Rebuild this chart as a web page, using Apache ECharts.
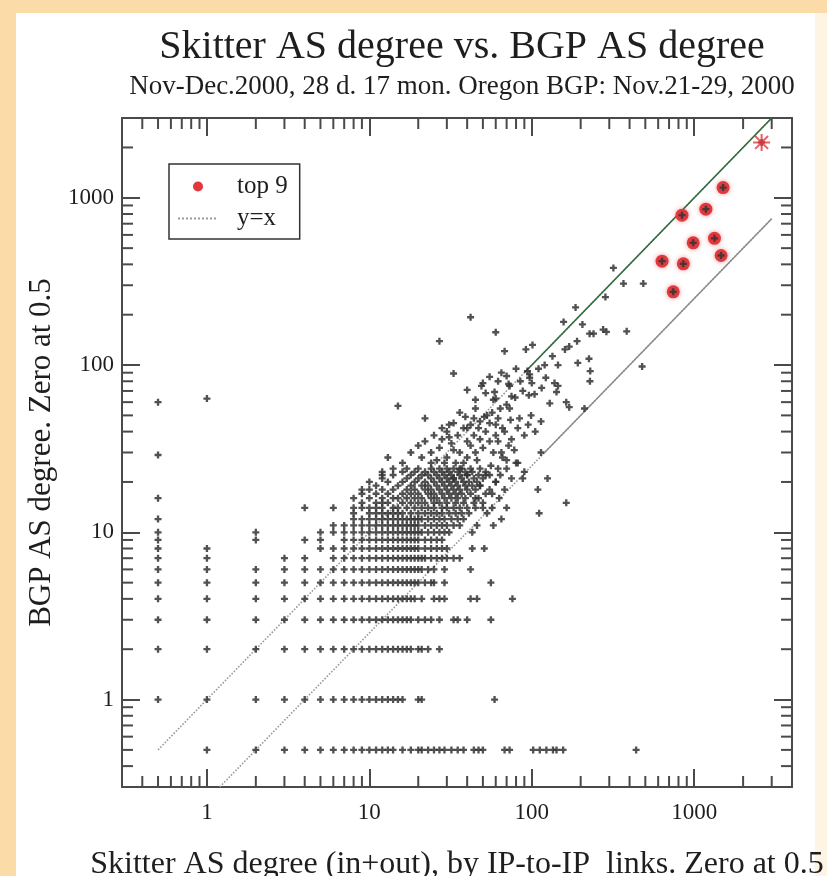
<!DOCTYPE html>
<html><head><meta charset="utf-8">
<script src="https://cdn.jsdelivr.net/npm/echarts@6/dist/echarts.min.js"></script>
<style>html,body{margin:0;padding:0;background:#fff}#c{width:827px;height:876px}</style>
</head><body><div id="c"></div>
<script>
const titleText = 'Skitter AS degree vs. BGP AS degree';
const subtitleText = 'Nov-Dec.2000, 28 d. 17 mon. Oregon BGP: Nov.21-29, 2000';
const xAxisLabel = 'Skitter AS degree (in+out), by IP-to-IP  links. Zero at 0.5';
const yAxisLabel = 'BGP AS degree. Zero at 0.5';
const xRange = [0.3, 4000];
const yRange = [0.3, 3000];
const majorTicks = [1, 10, 100, 1000];
const xMinorTicks = [0.4,0.5,0.6,0.7,0.8,0.9,2,3,4,5,6,7,8,9,20,30,40,50,60,70,80,90,200,300,400,500,600,700,800,900,2000,3000];
const yMinorTicks = [0.4,0.5,0.6,0.7,0.8,0.9,2,3,4,5,6,7,8,9,20,30,40,50,60,70,80,90,200,300,400,500,600,700,800,900,2000];

// grid-like low degree rows: BGP degree (y) and the Skitter degrees (x) found on that row
const gridYs = [0.5,1,2,3,4,5,6,7,8,9,10,11,12,13,14,15,16,17,18,19,20,21,22,23,24];
const gridXs = [
  [1,2,3,4,5,6,7,8,9,10,11,12,13,14,16,18,20,21,23,25,27,29,32,35,38,44,47,50,68,73,102,112,123,135,142,156,439],
  [0.5,1,2,3,4,5,6,7,8,9,10,11,12,13,14,15,16,20,21,59],
  [0.5,1,2,3,4,5,6,7,8,9,10,11,12,13,14,15,16,17,18,20,21,23,27],
  [0.5,1,2,3,4,5,6,7,8,9,10,11,12,13,14,15,16,17,18,20,22,24,27,33,35,40,56],
  [0.5,1,2,3,4,5,6,7,8,9,10,11,12,13,14,15,16,17,18,19,21,25,27,29,42,46,76],
  [0.5,1,2,3,4,5,6,7,8,9,10,11,12,13,14,15,16,17,18,19,20,22,24,25,29,56],
  [0.5,1,2,3,4,5,6,7,8,9,10,11,12,13,14,15,16,17,18,19,20,21,23,25,29,42],
  [0.5,1,3,4,6,7,8,9,10,11,12,13,14,15,16,17,18,19,20,21,22,24,26,28,30,33,36],
  [0.5,1,5,6,7,8,9,10,11,12,13,14,15,16,17,18,19,20,22,24,26,28,30,43,51],
  [0.5,2,4,5,7,8,9,10,11,12,13,14,15,16,17,18,19,20,22,24,26,28],
  [0.5,2,5,6,7,8,9,10,11,12,13,14,15,16,17,18,19,20,21,23,25,27,29,31,43],
  [6,7,8,9,10,11,12,13,14,15,16,17,18,19,20,22,24,26,28,30,33,36],
  [0.5,8,9,10,11,12,13,14,15,16,17,18,19,20,21,23,25,27,29,32,35,38],
  [8,10,11,12,13,14,15,16,18,20,22,24,26,28,31,34,37,41,111],
  [4,6,8,9,10,11,12,14,15,17,19,21,23,25,28,30,33,36,40,45,57,70],
  [9,11,12,13,16,18,20,22,25,27,30,34,38,44,50,163],
  [0.5,8,10,12,14,15,17,19,21,24,26,29,32,35,39,47],
  [9,11,13,16,18,20,23,25,28,31,34,37,42,52],
  [9,10,12,14,17,19,22,24,27,30,33,36,40,45,55,109],
  [11,15,18,21,23,26,29,32,35,39,43,48],
  [10,13,16,19,22,25,28,31,34,38,41,46,60],
  [12,17,20,24,27,30,33,37,44,50,88,125],
  [12,14,18,21,23,26,29,32,36,40,47,55],
  [12,16,19,22,25,28,31,35,39,43,52],
  [14,17,20,24,27,30,33,37,42,48,62]
];

// scattered higher-degree ASes [skitter degree, BGP degree]
const cloudPoints = [
  [0.5,29],[0.5,60],[1,63],
  [13,28],[16,26],[18,30],[20,33],[21,28],[22,35],[24,30],[24,26],[25,38],[26,27],[27,32],[28,36],[29,26],[30,40],[30,28],[31,37],[32,34],[33,31],[34,26],[35,38],[36,30],[38,42],[38,26],[40,35],[40,28],[42,33],[44,38],[45,30],[46,27],[48,36],[50,32],[52,40],[55,35],[58,30],[60,38],[66,28],[72,33],[80,26],[114,30],
  [62,35],[68,40],[75,36],[82,42],[90,38],[65,30],[70,27],[78,31],[95,44],[105,40],
  [56,25],[64,22],[70,24],[75,21],[82,26],[90,23],[60,20],[68,18],[52,22],[48,19],[57,17],[63,16],[45,16],[50,14],[40,22],[36,24],[33,21],[65,12],[58,11],[46,11],[53,13],
  [15,57],[22,48],[28,42],[31,44],[33,45],[36,52],[39,49],[40,42],[42,44],[44,48],[45,55],[47,42],[48,46],[51,49],[53,50],[55,45],[57,52],[60,44],[62,48],[64,55],[66,42],[70,58],[73,55],[74,47],[84,48],[99,50],[114,46],[129,59],[163,60],[170,56],[211,55],[58,62],[60,63],[59,69],[79,64],[96,66],[104,67],
  [33,89],[40,71],[49,75],[50,78],[45,62],[52,68],[55,85],[62,80],[65,90],[70,86],[72,77],[73,75],[75,65],[85,80],[88,70],[80,95],[94,92],[97,88],[97,84],[100,78],[110,95],[115,73],[120,100],[122,84],[138,78],[142,69],[145,75],[145,100],[68,121],[92,124],[101,132],[134,113],[160,124],[170,129],[190,139],[192,103],[225,109],[229,92],[228,80],[478,98],[60,157],[42,193],[27,139],
  [157,181],[205,175],[186,221],[227,154],[240,154],[275,163],[288,158],[384,159],[284,255],[318,381],[367,307],[486,307]
];

const top9 = [[841,787],[1180,855],[1506,1151],[634,418],[857,403],[986,538],[1333,572],[1464,452],[743,274]];
const topStar = [[2600,2143]];
const lineYeqX = [[0.5,0.5],[3000,3000]];
const lineYeqXUpper = [[90,90],[3000,3000]];
const lineQuarter = [[1.2,0.3],[3000,750]];
const lineQuarterUpper = [[120,30],[3000,750]];

const SERIF = 'Liberation Serif, Times New Roman, serif';
const TXT = '#1e1e1e';
const AX = '#4a4a4a';

const blackPoints = [];
gridYs.forEach((y, i) => gridXs[i].forEach(x => blackPoints.push([x, y])));
cloudPoints.forEach(p => blackPoints.push(p));
top9.forEach(p => blackPoints.push(p));
topStar.forEach(p => blackPoints.push(p));

const PLUS = 'path://M2,0H4V6H2Z M0,2H6V4H0Z';
const STAR = 'path://M4.4,0H5.6V10H4.4Z M0,4.4H10V5.6H0Z M1.6,0.8L9.2,8.4L8.4,9.2L0.8,1.6Z M8.4,0.8L9.2,1.6L1.6,9.2L0.8,8.4Z';

function isMajor(v) { return majorTicks.some(m => Math.abs(v / m - 1) < 1e-6); }

function minorTickSeries(values, dim) {
  return {
    type: 'custom', silent: true, z: 5, clip: false,
    data: values.map(v => dim === 'x' ? [v, 1] : [1, v]),
    renderItem: function (params, api) {
      const cs = params.coordSys;
      const p = api.coord([api.value(0), api.value(1)]);
      const L = 11;
      const style = { stroke: AX, lineWidth: 2 };
      if (dim === 'x') {
        const x = p[0], b = cs.y + cs.height, t = cs.y;
        return { type: 'group', children: [
          { type: 'line', shape: { x1: x, y1: b, x2: x, y2: b - L }, style },
          { type: 'line', shape: { x1: x, y1: t, x2: x, y2: t + L }, style }
        ]};
      }
      const y = p[1], l = cs.x, r = cs.x + cs.width;
      return { type: 'group', children: [
        { type: 'line', shape: { x1: l, y1: y, x2: l + L, y2: y }, style },
        { type: 'line', shape: { x1: r, y1: y, x2: r - L, y2: y }, style }
      ]};
    }
  };
}

function logAxis(range, pos, showLabel, margin, extra) {
  return Object.assign({
    type: 'log', logBase: 10, min: range[0], max: range[1], position: pos,
    splitLine: { show: false }, minorTick: { show: false }, minorSplitLine: { show: false },
    axisLine: { show: true, onZero: false, lineStyle: { color: AX, width: 2 } },
    axisTick: { show: true, inside: true, length: 18, lineStyle: { color: AX, width: 2 } },
    axisLabel: { show: showLabel, margin: margin, fontFamily: SERIF, fontSize: 23, color: TXT,
      formatter: v => isMajor(v) ? String(Math.round(v)) : '' }
  }, extra || {});
}

const chart = echarts.init(document.getElementById('c'), null, { renderer: 'canvas' });
chart.setOption({
  animation: false,
  backgroundColor: '#fbdba8',
  graphic: [
    { type: 'rect', z: -10, shape: { x: 16, y: 13, width: 799, height: 863 }, style: { fill: '#ffffff' } },
    { type: 'rect', z: -10, shape: { x: 815, y: 13, width: 12, height: 863 }, style: { fill: '#fef4e4' } }
  ],
  title: [
    { text: titleText, left: 457, top: 22, textAlign: 'center',
      textStyle: { fontFamily: SERIF, fontSize: 40, fontWeight: 'normal', color: TXT } },
    { text: subtitleText, left: 457, top: 68, textAlign: 'center',
      textStyle: { fontFamily: SERIF, fontSize: 27, fontWeight: 'normal', color: TXT } }
  ],
  legend: {
    data: ['top 9', 'y=x'], orient: 'vertical', left: 169, top: 164,
    padding: [10, 12, 8, 8], itemGap: 7, itemWidth: 40, itemHeight: 10,
    borderColor: '#333', borderWidth: 1.5, backgroundColor: '#fff', selectedMode: false,
    textStyle: { fontFamily: SERIF, fontSize: 25, color: TXT, lineHeight: 24, padding: [0, 0, 0, 14] }
  },
  grid: { left: 122, right: 35, top: 118, bottom: 89, containLabel: false, outerBoundsMode: 'none' },
  xAxis: [
    logAxis(xRange, 'bottom', true, 14, {
      name: xAxisLabel, nameLocation: 'middle', nameGap: 62,
      nameTextStyle: { fontFamily: SERIF, fontSize: 32, color: TXT }
    }),
    logAxis(xRange, 'top', false, 10)
  ],
  yAxis: [
    logAxis(yRange, 'left', true, 8, {
      name: yAxisLabel, nameLocation: 'middle', nameGap: 61, nameRotate: 90,
      nameTextStyle: { fontFamily: SERIF, fontSize: 31, color: TXT }
    }),
    logAxis(yRange, 'right', false, 10)
  ],
  series: [
    minorTickSeries(xMinorTicks, 'x'),
    minorTickSeries(yMinorTicks, 'y'),
    { name: 'y=x', type: 'line', data: lineYeqX, symbol: 'none', showSymbol: false, z: 2,
      itemStyle: { color: 'rgba(0,0,0,0)', borderWidth: 0 },
      lineStyle: { type: 'dotted', color: '#9a9a9a', width: 1.6 } },
    { name: 'y=x upper', type: 'line', data: lineYeqXUpper, symbol: 'none', z: 2,
      lineStyle: { type: 'solid', color: '#2f6b3c', width: 1.6 } },
    { name: 'y=x/4', type: 'line', data: lineQuarter, symbol: 'none', z: 2,
      lineStyle: { type: 'dotted', color: '#9a9a9a', width: 1.6 } },
    { name: 'y=x/4 upper', type: 'line', data: lineQuarterUpper, symbol: 'none', z: 2,
      lineStyle: { type: 'solid', color: '#8a8a8a', width: 1.3 } },
    { name: 'top 9', type: 'scatter', data: top9, symbol: 'circle', symbolSize: 13, z: 3,
      itemStyle: { color: '#e0383c', shadowBlur: 5, shadowColor: 'rgba(235,80,90,0.6)', opacity: 1 } },
    { name: 'AS', type: 'scatter', data: blackPoints, symbol: PLUS, symbolSize: 7, z: 4,
      itemStyle: { color: '#333', opacity: 0.85 } },
    { name: 'top', type: 'scatter', data: topStar, symbol: STAR, symbolSize: 17, z: 5,
      itemStyle: { color: '#e0383c' } }
  ]
});
</script></body></html>
